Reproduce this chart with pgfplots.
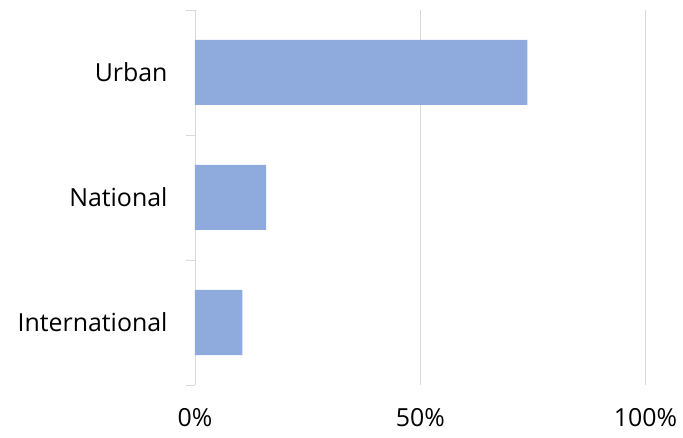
\documentclass[border=0pt]{standalone}
\usepackage{pgfplots}
\pgfplotsset{compat=1.18}
\usepackage{fontspec}
\setmainfont{Open Sans}
\definecolor{barblue}{HTML}{8FAADC}
\definecolor{gridgray}{HTML}{D9D9D9}
\begin{document}
\begin{tikzpicture}
\path[use as bounding box] (-195bp,-53bp) rectangle (488bp,385bp);
\begin{axis}[
  at={(0,0)}, anchor=south west,
  scale only axis,
  width=450.5bp, height=375bp,
  xbar, bar width=65bp,
  xmin=0, xmax=100,
  ymin=-0.5, ymax=2.5,
  axis x line*=bottom,
  x axis line style={draw=none},
  axis y line*=left,
  y axis line style={gridgray, line width=0.8pt, -},
  xtick={0,50,100},
  xticklabels={0\%,50\%,100\%},
  xmajorgrids, grid style={gridgray, line width=0.8pt},
  ytick={0,1,2},
  yticklabels={International,National,Urban},
  extra y ticks={-0.5,0.5,1.5,2.5},
  extra y tick labels={},
  extra y tick style={tick style={gridgray, line width=0.8pt}, major tick length=9bp, grid=none},
  major tick length=0pt,
  tick align=outside,
  tick label style={font=\fontsize{25}{30}\selectfont, text=black},
  yticklabel style={xshift=-24bp},
  xticklabel style={yshift=-20bp},
  /pgf/number format/assume math mode=true,
  clip=false,
]
\addplot[fill=barblue, draw=none] coordinates {(10.5,0) (15.8,1) (73.8,2)};
\end{axis}
\end{tikzpicture}
\end{document}
